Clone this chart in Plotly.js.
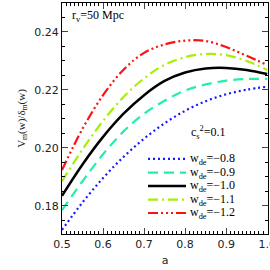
<!DOCTYPE html>
<html><head><meta charset="utf-8">
<script src="https://cdn.plot.ly/plotly-3.0.1.min.js"></script>
<style>html,body{margin:0;padding:0;background:#fff;overflow:hidden}#c{width:270px;height:270px}</style>
</head><body><div id="c"></div>
<script>
const aVals = [0.5,0.55,0.6,0.65,0.7,0.75,0.8,0.85,0.9,0.95,1.0];
const w08 = [0.1717,0.1812,0.1896,0.1969,0.2032,0.2085,0.2128,0.2161,0.2185,0.2201,0.2211];
const w09 = [0.1785,0.1885,0.1978,0.2057,0.2118,0.2163,0.2198,0.2219,0.2232,0.2238,0.2238];
const w10 = [0.1835,0.1943,0.2038,0.2118,0.2182,0.2231,0.2260,0.2274,0.2276,0.2269,0.2255];
const w11 = [0.1885,0.1995,0.2093,0.2176,0.2240,0.2287,0.2313,0.2324,0.2320,0.2300,0.2269];
const w12 = [0.1924,0.2066,0.2182,0.2270,0.2328,0.2357,0.2370,0.2369,0.2348,0.2318,0.2286];
const names = ["w<sub>de</sub>=\u22120.8","w<sub>de</sub>=\u22120.9","w<sub>de</sub>=\u22121.0","w<sub>de</sub>=\u22121.1","w<sub>de</sub>=\u22121.2"];
const series = [w08,w09,w10,w11,w12];
const colors = ["#1a1aff","#22f0a8","#000000","#a6f000","#ff1010"];
const dashes = ["2px,3px","10px,6px","solid","10px,4px,2px,4px","10px,3px,2px,3px,2px,3px,2px,3px"];
const widths = [2.2,2.2,2.5,2.2,2.2];
const traces = series.map((s,i)=>({x:aVals,y:s,type:'scatter',mode:'lines',name:names[i],showlegend:false,
  line:{color:colors[i],dash:dashes[i],width:widths[i],shape:'spline',smoothing:1}}));
const serif = "Liberation Serif, serif";
const sans = "DejaVu Sans, sans-serif";
// manual legend (compact row spacing as in the reference)
const legRowY = [0.325,0.266,0.208,0.149,0.091];
const shapes = [], annotations = [];
series.forEach((s,i)=>{
  shapes.push({type:'line',xref:'paper',yref:'paper',x0:0.4175,x1:0.602,y0:legRowY[i],y1:legRowY[i],
    line:{color:colors[i],dash:dashes[i],width:widths[i]}});
  annotations.push({xref:'paper',yref:'paper',x:0.612,y:legRowY[i],xanchor:'left',yanchor:'middle',
    showarrow:false,text:names[i],font:{family:serif,size:12,color:'#000'}});
});
annotations.push({xref:'paper',yref:'paper',x:0.04,y:0.985,xanchor:'left',yanchor:'top',showarrow:false,
  text:'r<sub>v</sub>=50 Mpc',font:{family:serif,size:12,color:'#000'}});
annotations.push({xref:'paper',yref:'paper',x:0.615,y:0.44,xanchor:'left',yanchor:'middle',showarrow:false,
  text:'c<sub>s</sub><sup>2</sup>=0.1',font:{family:serif,size:12,color:'#000'}});
const layout = {
  width:270,height:270,margin:{l:62,r:2,t:3,b:36},
  paper_bgcolor:'#fff',plot_bgcolor:'#fff',showlegend:false,
  font:{family:serif,size:12,color:'#000'},
  xaxis:{range:[0.5,1.002],dtick:0.1,tick0:0.5,tickformat:'.1f',ticks:'inside',ticklen:6,
    ticklabeloverflow:'allow',
    showline:true,mirror:'ticks',linecolor:'#000',linewidth:1,showgrid:false,zeroline:false,
    minor:{dtick:0.01,ticks:'inside',ticklen:3,tickcolor:'#000',showgrid:false},
    tickfont:{family:sans,size:11,color:'#222'},
    title:{text:'a',font:{family:sans,size:11,color:'#222'},standoff:6}},
  yaxis:{range:[0.1703,0.25],dtick:0.02,tick0:0.18,tickformat:'.2f',ticks:'inside',ticklen:6,
    showline:true,mirror:'ticks',linecolor:'#000',linewidth:1,showgrid:false,zeroline:false,
    minor:{dtick:0.005,ticks:'inside',ticklen:3,tickcolor:'#000',showgrid:false},
    tickfont:{family:sans,size:11,color:'#222'},
    title:{text:'V<sub>m</sub>(w)/\u03b4<sub>m</sub>(w)',font:{family:serif,size:11,color:'#222'},standoff:6}},
  shapes:shapes,
  annotations:annotations
};
Plotly.newPlot('c',traces,layout,{staticPlot:true,displayModeBar:false});
</script></body></html>
